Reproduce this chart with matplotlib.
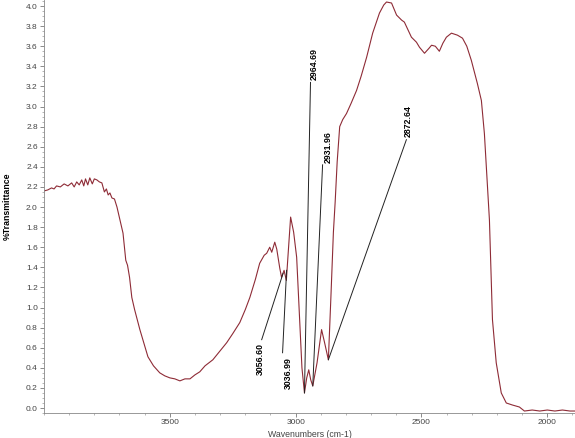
import numpy as np
import matplotlib
matplotlib.use('Agg')
import matplotlib.pyplot as plt
from matplotlib.ticker import MultipleLocator, FixedLocator

plt.rcParams['font.family'] = ['Liberation Sans', 'DejaVu Sans']

# wavenumber (cm-1) and %T
wn = [4000, 3985, 3970, 3960, 3950, 3935, 3920, 3905, 3890, 3880, 3870, 3860,
      3850, 3842, 3835, 3826, 3818, 3808, 3800, 3790, 3780, 3770, 3760, 3752,
      3745, 3738, 3730, 3720, 3710, 3698, 3686, 3675, 3668, 3660, 3651, 3640,
      3619, 3600, 3587, 3565, 3540, 3520, 3500, 3480, 3460, 3440, 3420, 3400,
      3381, 3360, 3329, 3300, 3274, 3250, 3222, 3200, 3182, 3160, 3143, 3125,
      3115, 3103, 3095, 3083, 3075, 3063, 3056, 3046, 3037, 3028, 3020, 3008,
      2996, 2984, 2975, 2965, 2956, 2948, 2940, 2932, 2915, 2897, 2885, 2870,
      2860, 2850, 2843, 2835, 2825, 2813, 2798, 2780, 2758, 2740, 2718, 2694,
      2667, 2650, 2639, 2619, 2599, 2579, 2568, 2540, 2520, 2508, 2488, 2470,
      2460, 2445, 2429, 2415, 2401, 2381, 2357, 2337, 2320, 2302, 2278, 2262,
      2250, 2240, 2230, 2218, 2203, 2183, 2163, 2139, 2111, 2091, 2060, 2030,
      2000, 1970, 1940, 1910, 1890]
trans = [2.16, 2.17, 2.19, 2.18, 2.21, 2.20, 2.23, 2.21, 2.24, 2.20, 2.25, 2.22,
         2.27, 2.21, 2.28, 2.22, 2.29, 2.23, 2.28, 2.27, 2.25, 2.24, 2.15, 2.18,
         2.12, 2.14, 2.09, 2.08, 2.00, 1.87, 1.74, 1.47, 1.42, 1.30, 1.10, 0.98,
         0.78, 0.62, 0.51, 0.42, 0.35, 0.32, 0.30, 0.29, 0.27, 0.29, 0.29, 0.33,
         0.36, 0.42, 0.48, 0.57, 0.65, 0.74, 0.85, 0.98, 1.10, 1.28, 1.44, 1.52,
         1.54, 1.60, 1.55, 1.65, 1.58, 1.39, 1.30, 1.37, 1.27, 1.60, 1.90, 1.75,
         1.50, 0.88, 0.40, 0.15, 0.30, 0.38, 0.28, 0.22, 0.45, 0.78, 0.65, 0.48,
         1.10, 1.75, 2.05, 2.45, 2.80, 2.87, 2.93, 3.03, 3.16, 3.30, 3.49, 3.73,
         3.93, 4.01, 4.04, 4.03, 3.91, 3.86, 3.84, 3.69, 3.64, 3.59, 3.53, 3.58,
         3.61, 3.60, 3.55, 3.63, 3.69, 3.73, 3.71, 3.68, 3.60, 3.46, 3.23, 3.06,
         2.73, 2.30, 1.87, 0.88, 0.45, 0.15, 0.05, 0.03, 0.01, -0.03, -0.02, -0.03,
         -0.02, -0.03, -0.02, -0.03, -0.03]

# peak labels: name, peak point, leader end near label, text anchor
peak_names = ['3056.60', '3036.99', '2964.69', '2931.96', '2872.64']
peak_pts = [(3050, 1.34), (3036, 1.37), (2965, 0.15), (2932, 0.22), (2870, 0.48)]
leader_ends = [(3135, 0.68), (3052, 0.55), (2941, 3.24), (2893, 2.42), (2560, 2.67)]
text_pts = [(3139, 0.65), (3028, 0.51), (2925, 3.26), (2869, 2.44), (2552, 2.70)]
text_below = [True, True, False, False, False]

fig = plt.figure(figsize=(5.75, 4.38), dpi=100)
ax = fig.add_axes([0.0765, 0.057, 0.9235, 0.943])

ax.plot(wn, trans, color='#8e2b36', lw=0.8)

for name, (px, py), (lx, ly), (tx, ty), below in zip(peak_names, peak_pts, leader_ends,
                                                      text_pts, text_below):
    ax.plot([lx, px], [ly, py], color='#222222', lw=0.7)
    ax.text(tx, ty, name, rotation=90, ha='center', va='top' if below else 'bottom',
            fontsize=6.3, fontweight='bold')

ax.set_xlim(4000, 1890)
ax.set_ylim(-0.05, 4.06)
ax.xaxis.set_major_locator(FixedLocator([3500, 3000, 2500, 2000]))
ax.xaxis.set_minor_locator(MultipleLocator(100))
ax.yaxis.set_major_locator(MultipleLocator(0.2))
ax.yaxis.set_minor_locator(MultipleLocator(0.05))
ax.tick_params(labelsize=6, labelcolor='#444444', color='#777777', length=3, width=0.6, pad=1.5)
ax.tick_params(which='minor', length=1.5, color='#999999', width=0.5)
ax.yaxis.set_major_formatter(plt.FuncFormatter(lambda v, p: '%.1f' % v))

for s in ['top', 'right']:
    ax.spines[s].set_visible(False)
for s in ['left', 'bottom']:
    ax.spines[s].set_color('#888888')
    ax.spines[s].set_linewidth(0.6)

ax.set_xlabel('Wavenumbers (cm-1)', fontsize=6.3, color='#444444', labelpad=3)
ax.set_ylabel('%Transmittance', fontsize=6.3, fontweight='bold', labelpad=10)

fig.savefig('out.png', dpi=100)
